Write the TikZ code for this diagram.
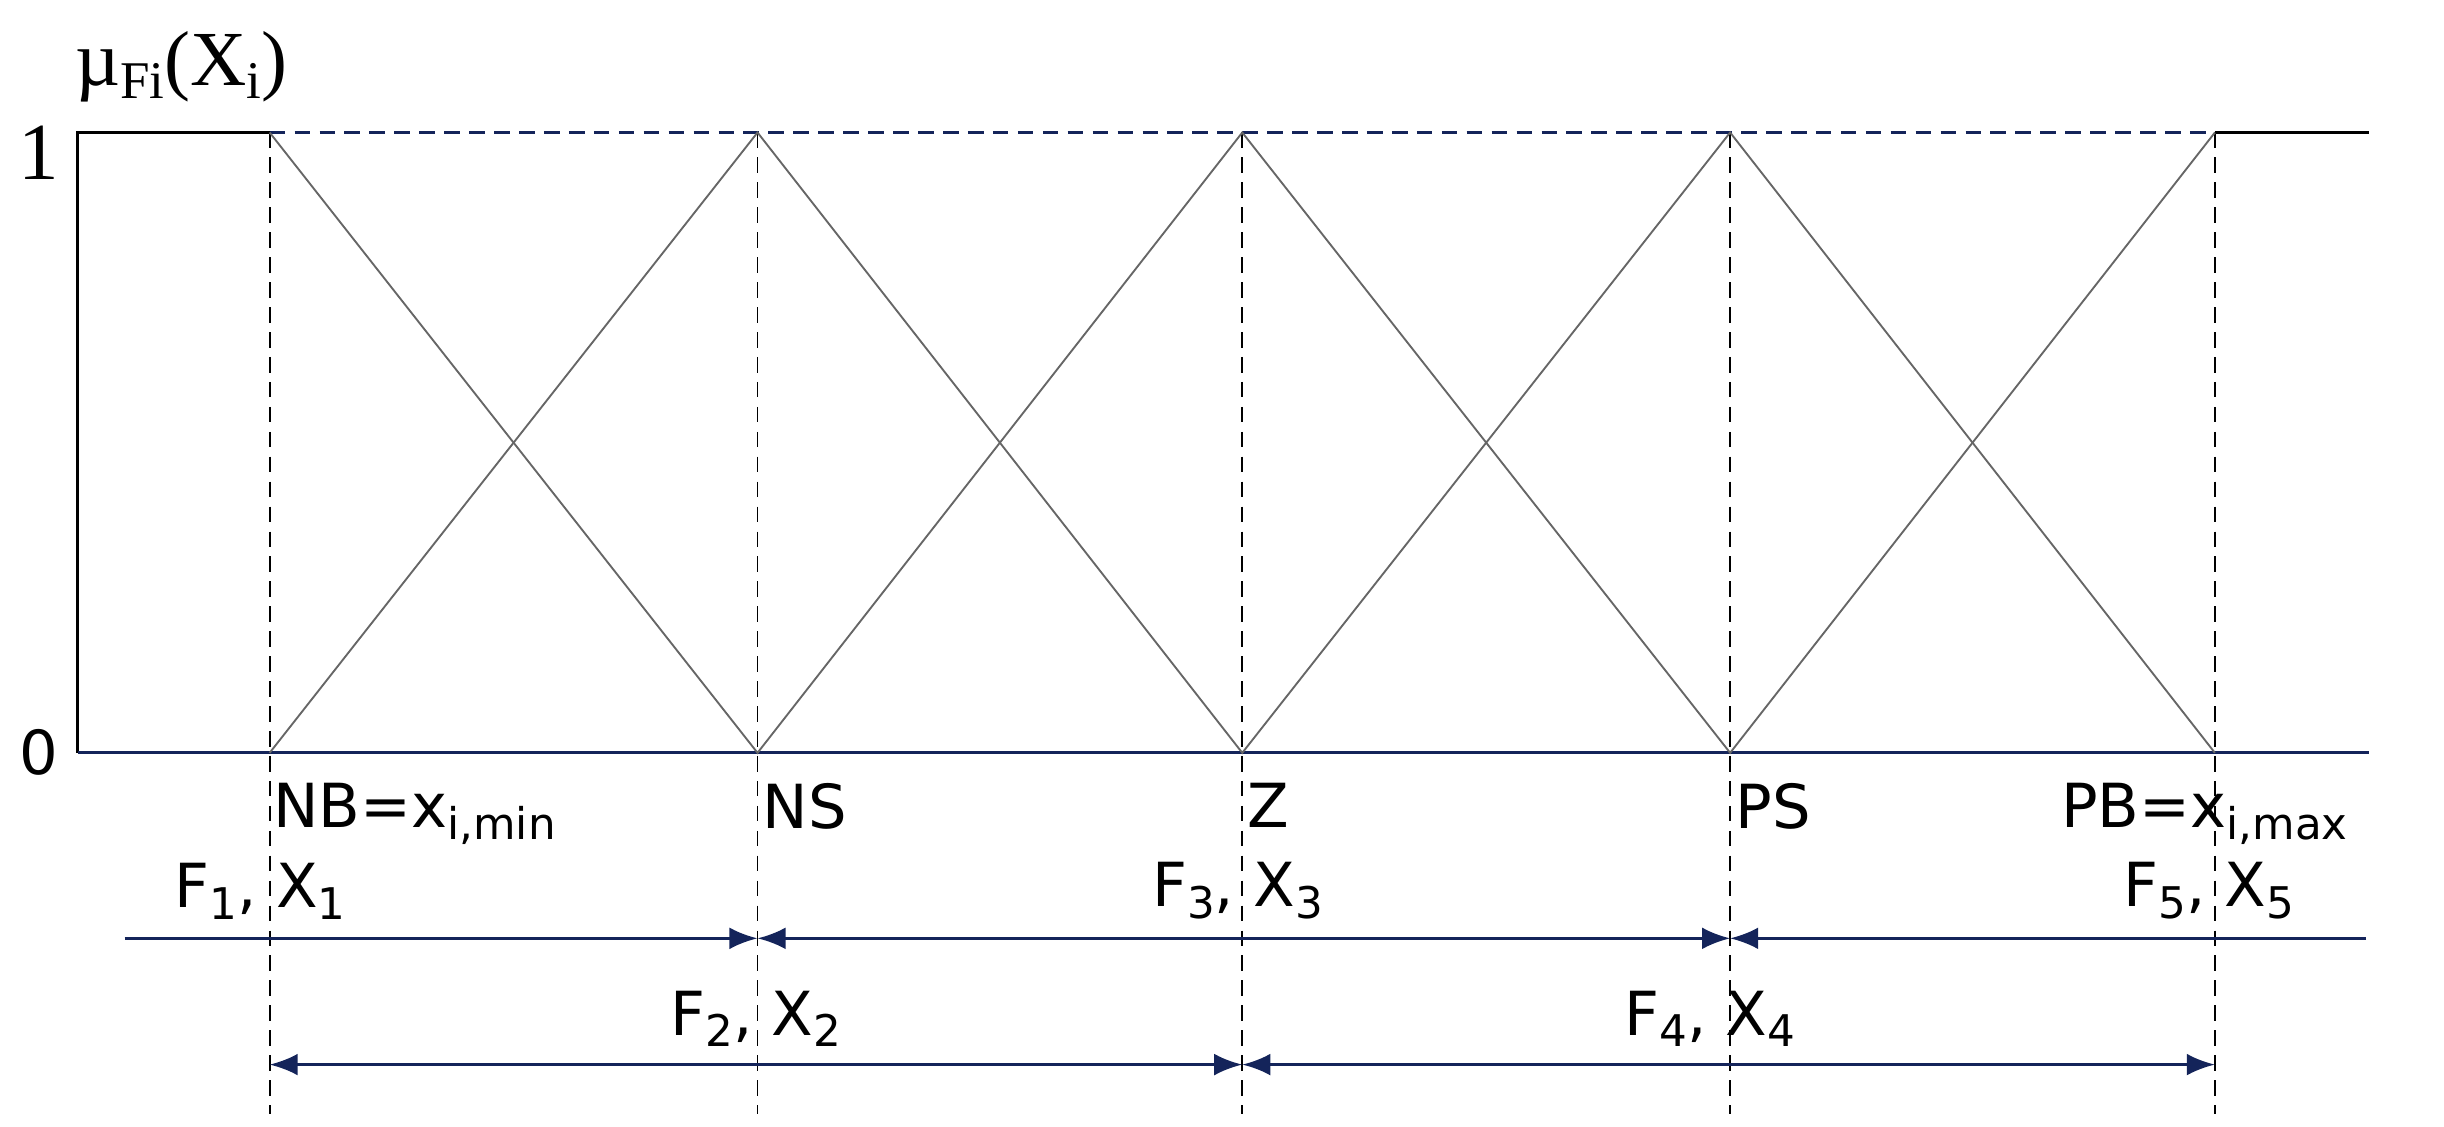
\documentclass[tikz,border=0pt]{standalone}
\usepackage{fontspec}
\setmainfont{DejaVu Sans}
\newfontfamily\seriffont{Liberation Serif}
\usetikzlibrary{arrows.meta}
\definecolor{navy}{RGB}{20,36,90}
\newcommand{\lowsub}[1]{\raisebox{-0.35ex}{\fontsize{14}{14}\selectfont #1}}
\newcommand{\lowsubs}[1]{\raisebox{-0.35ex}{\fontsize{17}{17}\selectfont #1}}
\begin{document}
\begin{tikzpicture}[x=0.5pt,y=-0.5pt,
  memb/.style={draw=black!60,line width=0.6pt},
  vdash/.style={draw=black,dashed,dash pattern=on 5pt off 3pt,line width=0.6pt},
  dimline/.style={draw=navy,line width=1pt,-{Latex[length=9pt,width=7pt]}},
  dimboth/.style={draw=navy,line width=1pt,{Latex[length=9pt,width=7pt]}-{Latex[length=9pt,width=7pt]}},
  lbl/.style={font=\fontsize{19.5}{22}\selectfont,inner sep=0pt}]
\useasboundingbox (0,0) rectangle (1568,723);
\foreach \n/\x in {1/173,2/486,3/797,4/1110,5/1421}{
  \coordinate (t\n) at (\x,85);
  \coordinate (b\n) at (\x,483);
  \coordinate (e\n) at (\x,715);
  \coordinate (r\n) at (\x,602);
  \coordinate (q\n) at (\x,683);
}
\coordinate (o) at (50,483);
\coordinate (otop) at (50,85);
\coordinate (rend) at (1520,483);
\coordinate (rtop) at (1520,85);
\coordinate (rl) at (80,602);
\coordinate (rr) at (1518,602);
\foreach \n in {1,...,5} \draw[vdash] (t\n) -- (e\n);
\draw[navy,dashed,dash pattern=on 5pt off 3pt,line width=0.8pt] (t1) -- (t5);
\draw[black,line width=1pt] (o) -- (otop) -- (t1);
\draw[black,line width=1pt] (t5) -- (rtop);
\draw[navy,line width=1pt] (o) -- (rend);
\draw[memb] (t1) -- (b2) -- (t3) -- (b4) -- (t5);
\draw[memb] (b1) -- (t2) -- (b3) -- (t4) -- (b5);
\node[lbl,anchor=south west,font=\seriffont\fontsize{25}{28}\selectfont] (mu) at (48,66) {\textmu\lowsubs{Fi}(X\lowsubs{i})};
\node[lbl,anchor=east,font=\seriffont\fontsize{26}{28}\selectfont] (one) at (38,98) {1};
\node[lbl,anchor=east] (zero) at (38,483) {0};
\node[lbl,anchor=north west] (nb) at (175,502) {NB=x\lowsub{i,min}};
\node[lbl,anchor=north west] (ns) at (489,502) {NS};
\node[lbl,anchor=north west] (z) at (800,502) {Z};
\node[lbl,anchor=north west] (ps) at (1113,502) {PS};
\node[lbl,anchor=north west] (pb) at (1322,502) {PB=x\lowsub{i,max}};
\node[lbl,anchor=south] (f1) at (167,590) {F\lowsub{1}, X\lowsub{1}};
\node[lbl,anchor=south] (f3) at (794,590) {F\lowsub{3}, X\lowsub{3}};
\node[lbl,anchor=south] (f5) at (1417,590) {F\lowsub{5}, X\lowsub{5}};
\node[lbl,anchor=south] (f2) at (485,672) {F\lowsub{2}, X\lowsub{2}};
\node[lbl,anchor=south] (f4) at (1097,672) {F\lowsub{4}, X\lowsub{4}};
\draw[dimline] (rl) -- (r2);
\draw[dimboth] (r2) -- (r4);
\draw[dimline] (rr) -- (r4);
\draw[dimboth] (q1) -- (q3);
\draw[dimboth] (q3) -- (q5);
\end{tikzpicture}
\end{document}
